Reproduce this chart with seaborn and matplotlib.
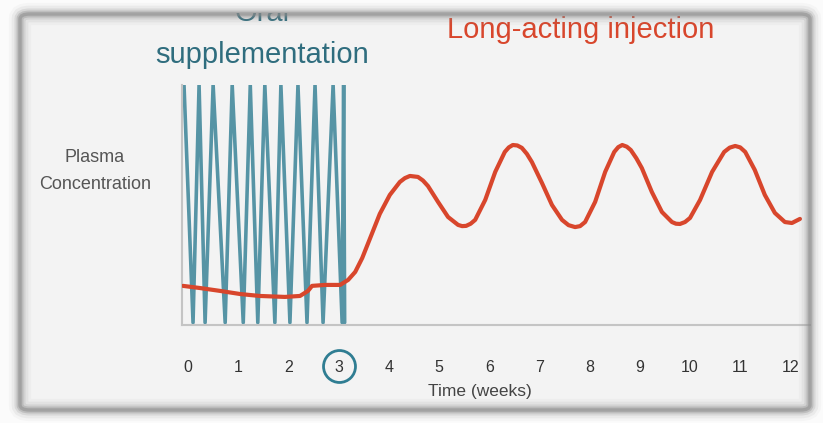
import matplotlib
matplotlib.use("Agg")
import matplotlib.pyplot as plt
from matplotlib.patches import FancyBboxPatch, Rectangle
import seaborn as sns
import pandas as pd

# oral dosing: plasma level swings between peak and trough (weeks, relative conc.)
oral_weeks = [-0.08, 0.10, 0.22, 0.34, 0.50, 0.74, 0.88, 1.10, 1.24, 1.39, 1.53,
              1.73, 1.85, 2.03, 2.19, 2.37, 2.53, 2.69, 2.89, 3.07, 3.10, 3.12]
oral_conc = [100, 1, 100, 1, 100, 1, 100, 1, 100, 1, 100,
             1, 100, 1, 100, 1, 100, 1, 100, 1, 100, 1]

# long-acting injection curve
inj_weeks = [-0.10, 0.24, 0.64, 1.04, 1.43, 1.93, 2.23, 2.39, 2.47, 2.73, 3.03,
             3.19, 3.33, 3.47, 3.63, 3.82, 4.02, 4.22, 4.32, 4.42, 4.58, 4.68,
             4.78, 4.98, 5.18, 5.38, 5.46, 5.54, 5.63, 5.72, 5.92, 6.12, 6.31,
             6.39, 6.47, 6.56, 6.65, 6.75, 6.85, 7.05, 7.25, 7.45, 7.58, 7.71,
             7.81, 7.91, 8.11, 8.31, 8.49, 8.57, 8.65, 8.74, 8.82, 8.93, 9.04,
             9.24, 9.44, 9.64, 9.72, 9.80, 9.90, 10.00, 10.20, 10.44, 10.68,
             10.79, 10.90, 11.00, 11.10, 11.29, 11.49, 11.69, 11.89, 12.03, 12.19]
inj_conc = [16.3, 15.4, 14.2, 12.9, 12.1, 11.7, 12.1, 14.2, 16.3, 16.7, 16.7,
            18.8, 22.1, 27.9, 36.3, 46.3, 54.2, 59.6, 61.2, 62.1, 61.7, 60.2,
            57.9, 51.3, 45.0, 41.7, 41.2, 41.3, 42.2, 43.8, 52.1, 63.8, 72.1,
            74.0, 75.0, 74.8, 73.8, 71.3, 67.9, 59.2, 50.0, 43.8, 41.6, 40.8,
            41.2, 42.9, 51.3, 63.8, 72.1, 74.1, 75.0, 74.3, 72.9, 69.5, 65.4,
            55.4, 47.1, 42.9, 42.2, 42.1, 42.9, 44.6, 52.1, 63.8, 72.1,
            73.9, 74.6, 74.0, 72.1, 64.6, 54.2, 46.7, 42.9, 42.5, 44.2]

week_ticks = list(range(13))
switch_week = 3

teal = "#2f7d92"
red = "#d8462c"

sns.set_style("white")
plt.rcParams['font.family'] = ['Liberation Sans', 'DejaVu Sans']

fig = plt.figure(figsize=(8.23, 4.23), dpi=100)
bg = "#fbfbfb"
fig.patch.set_facecolor(bg)

# framed panel with a soft grey border
W, H = 823, 423
def fx(px):
    return px / W
def fy(py):
    return 1 - py / H

box = (fx(20), fy(410))
bw, bh = fx(790), 396 / H
fig.patches.append(FancyBboxPatch(box, bw, bh, boxstyle="round,pad=0,rounding_size=0.012",
                                  transform=fig.transFigure, facecolor="#f3f3f3",
                                  edgecolor="none", zorder=-1))
# hide what sits above the top border
fig.patches.append(Rectangle((0, fy(13)), 1, 13 / H, transform=fig.transFigure,
                             facecolor=bg, edgecolor="none", zorder=4))
for lw, a in [(16, 0.05), (12, 0.10), (8, 0.18), (5, 0.32), (2.5, 0.5)]:
    fig.patches.append(FancyBboxPatch(box, bw, bh, boxstyle="round,pad=0,rounding_size=0.012",
                                      transform=fig.transFigure, facecolor="none",
                                      edgecolor="#8a8a8a", linewidth=lw, alpha=a,
                                      zorder=5))

ax = fig.add_axes([fx(182), fy(325), fx(810) - fx(182), (325 - 85) / H])
ax.set_facecolor("none")

oral = pd.DataFrame({"week": oral_weeks, "conc": oral_conc})
inj = pd.DataFrame({"week": inj_weeks, "conc": inj_conc})

sns.lineplot(data=oral, x="week", y="conc", sort=False, color=teal,
             linewidth=2.6, alpha=0.8, ax=ax)
sns.lineplot(data=inj, x="week", y="conc", sort=False, color=red,
             linewidth=3.0, ax=ax, zorder=3)

ax.set_xlim(-0.12, 12.39)
ax.set_ylim(0, 100)
ax.set_xticks(week_ticks)
ax.set_xticklabels([str(w) for w in week_ticks])
ax.set_yticks([])
ax.tick_params(axis="x", length=0, pad=25, labelsize=11.5, labelcolor="#333333")
ax.set_xlabel("Time (weeks)", fontsize=12.5, color="#444444")
ax.xaxis.set_label_coords(0.475, -0.245)
ax.set_ylabel("")
for s in ["top", "right"]:
    ax.spines[s].set_visible(False)
for s in ["left", "bottom"]:
    ax.spines[s].set_color("#c4c4c4")
    ax.spines[s].set_linewidth(1.5)

# circle the switch week
ax.plot([switch_week], [-0.171], marker="o", markersize=23, markerfacecolor="none",
        markeredgecolor=teal, markeredgewidth=2, transform=ax.get_xaxis_transform(),
        clip_on=False)

fig.text(fx(95), fy(171), "Plasma\nConcentration", ha="center", va="center",
         fontsize=13, color="#555555", linespacing=1.7)
fig.text(fx(262), fy(13), "Oral", ha="center", va="center", fontsize=21,
         color="#2f6d7e", zorder=1)
fig.text(fx(262), fy(55), "supplementation", ha="center", va="center",
         fontsize=21, color="#2f6d7e", zorder=1)
fig.text(fx(581), fy(30), "Long-acting injection", ha="center", va="center",
         fontsize=21, color=red, zorder=1)

fig.savefig("out.png", dpi=100, facecolor=fig.get_facecolor())
